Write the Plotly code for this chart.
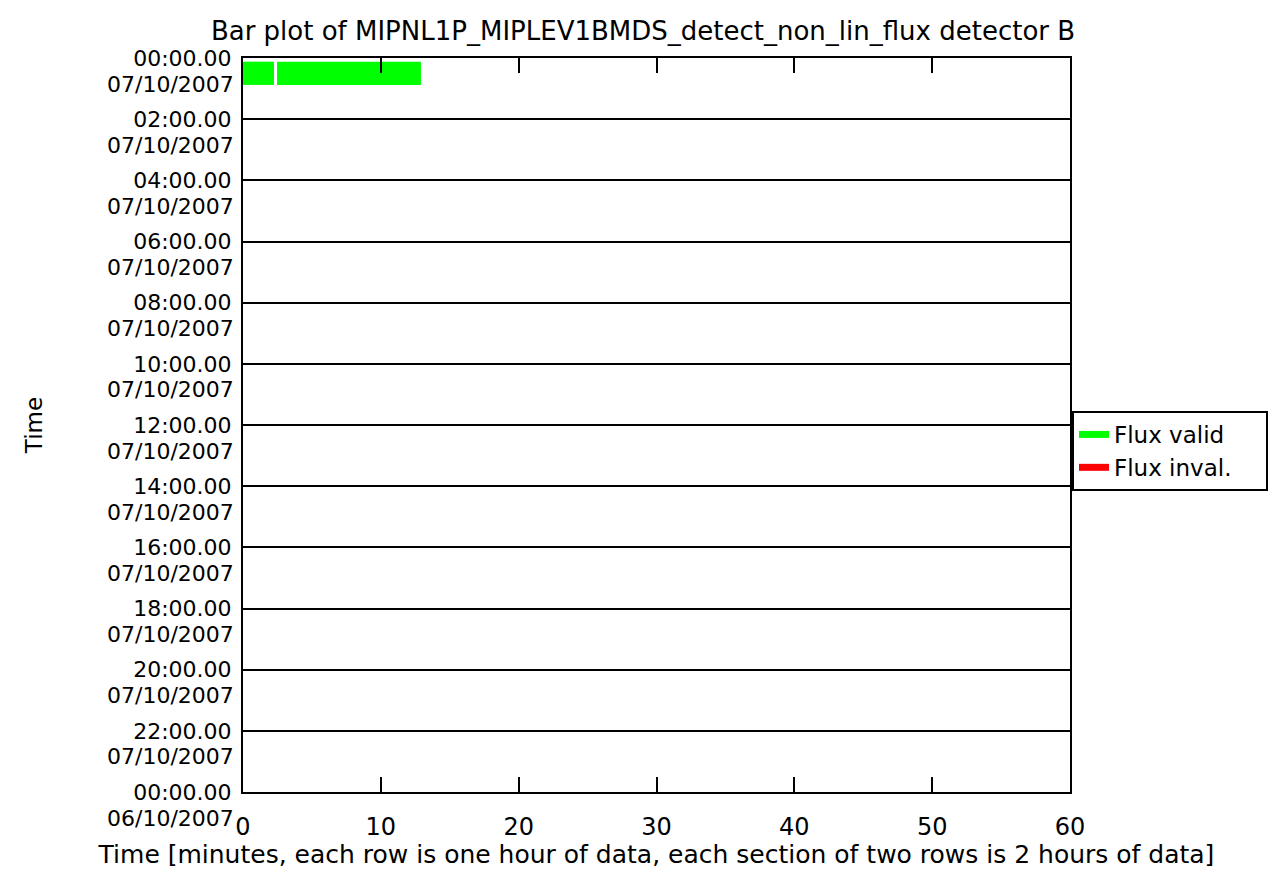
import plotly.graph_objects as go

# valid flux segments (minutes within the hour) and the hour-row they sit in
valid_row = [0, 0]
valid_start = [0.0, 2.47]
valid_end = [2.25, 12.91]

# invalid flux segments: none in this file
invalid_row = []
invalid_start = []
invalid_end = []

section_hours = list(range(0, 25, 2))
section_times = ['00:00.00', '02:00.00', '04:00.00', '06:00.00', '08:00.00', '10:00.00', '12:00.00',
                 '14:00.00', '16:00.00', '18:00.00', '20:00.00', '22:00.00', '00:00.00']
section_dates = ['07/10/2007'] * 12 + ['06/10/2007']

FONT = 'DejaVu Sans'
TICK_FS = 22
PAD = '\u00a0' * 4  # widens the legend box toward the page edge

fig = go.Figure()
fig.add_bar(y=[r + 0.5 for r in valid_row], x=[e - s for s, e in zip(valid_start, valid_end)],
            base=valid_start, orientation='h', width=0.76, marker_color='#00ff00',
            marker_line_width=0, showlegend=False, hoverinfo='skip')
fig.add_bar(y=[r + 0.5 for r in invalid_row], x=[e - s for s, e in zip(invalid_start, invalid_end)],
            base=invalid_start, orientation='h', width=0.76, marker_color='#ff0000',
            marker_line_width=0, showlegend=False, hoverinfo='skip')
# legend entries
fig.add_scatter(x=[None], y=[None], mode='lines', line=dict(color='#00ff00', width=7), name='Flux valid' + PAD)
fig.add_scatter(x=[None], y=[None], mode='lines', line=dict(color='#ff0000', width=7), name='Flux inval.' + PAD)

# date line under each section time label
for h, d in zip(section_hours, section_dates):
    fig.add_annotation(x=0, xref='paper', xanchor='right', xshift=-7, y=h, yref='y', yshift=-26,
                       yanchor='middle', text=d, showarrow=False, font=dict(size=TICK_FS))

fig.update_xaxes(range=[0, 60], tickvals=list(range(0, 61, 10)), ticks='inside', ticklen=15, tickwidth=2,
                 tickcolor='black', showline=True, linecolor='black', linewidth=2, mirror='ticks',
                 showgrid=False, zeroline=False, tickfont=dict(size=24), ticklabelstandoff=12,
                 title=dict(text='Time [minutes, each row is one hour of data, each section of two rows is 2 hours of data]',
                            font=dict(size=25), standoff=8))
fig.update_yaxes(range=[24, 0], tickvals=section_hours, ticktext=section_times, ticks='',
                 showline=True, linecolor='black', linewidth=2, mirror=True,
                 showgrid=True, gridcolor='black', gridwidth=2, zeroline=False,
                 tickfont=dict(size=TICK_FS), ticklabelstandoff=5,
                 title=dict(text='Time', font=dict(size=23), standoff=84))

fig.update_layout(
    width=1270, height=861,
    title=dict(text='Bar plot of MIPNL1P_MIPLEV1BMDS_detect_non_lin_flux detector B', x=0.5, xanchor='center',
               y=1 - 23 / 861, yanchor='middle', font=dict(size=26)),
    font=dict(family=FONT, color='black'),
    plot_bgcolor='white', paper_bgcolor='white',
    margin=dict(l=235, r=208, t=50, b=77, autoexpand=False),
    barmode='overlay',
    legend=dict(x=1.0024, xanchor='left', y=0.4646, yanchor='middle', bordercolor='black', borderwidth=2,
                font=dict(size=23), bgcolor='white'),
)

fig.write_html('out.html')
